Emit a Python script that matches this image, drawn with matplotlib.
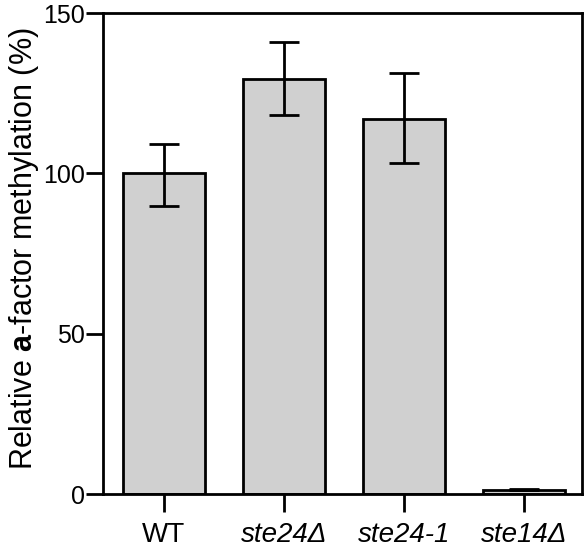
import matplotlib
matplotlib.use("Agg")
import matplotlib.pyplot as plt
import numpy as np

plt.rcParams["font.family"] = ["Liberation Sans", "DejaVu Sans"]
plt.rcParams["mathtext.fontset"] = "custom"
plt.rcParams["mathtext.rm"] = "Liberation Sans"
plt.rcParams["mathtext.bf"] = "Liberation Sans:bold"

strains = ["WT", "ste24Δ", "ste24-1", "ste14Δ"]
methylation = [100.0, 129.5, 117.0, 1.2]
err_low = [10.0, 11.2, 13.6, 0.0]
err_high = [9.3, 11.5, 14.2, 0.5]
italic = [False, True, True, True]

fig = plt.figure(figsize=(5.88, 5.5), dpi=100)
ax = fig.add_axes([0.1747, 0.1018, 0.8143, 0.8742])

x = np.arange(len(strains))
ax.bar(x, methylation, width=0.68, color="#d0d0d0", edgecolor="black", linewidth=2.0, zorder=2)
ax.errorbar(x, methylation, yerr=[err_low, err_high], fmt="none", ecolor="black",
            elinewidth=2.0, capsize=11, capthick=2.0, zorder=3)

ax.set_xlim(-0.51, 3.48)
ax.set_ylim(0, 150)
ax.set_yticks([0, 50, 100, 150])
ax.set_xticks(x)
ax.set_xticklabels(strains)
for lbl, it in zip(ax.get_xticklabels(), italic):
    if it:
        lbl.set_style("italic")

for s in ax.spines.values():
    s.set_linewidth(2.0)
ax.tick_params(axis="both", direction="out", width=2.0, length=12)
ax.tick_params(axis="y", pad=1, labelsize=18)
ax.tick_params(axis="x", pad=7, labelsize=20, length=13)
ax.set_ylabel(r"Relative $\mathbf{a}$-factor methylation (%)", fontsize=22)
ax.yaxis.set_label_coords(-0.128, 0.51)

fig.savefig("out.png", dpi=100)
